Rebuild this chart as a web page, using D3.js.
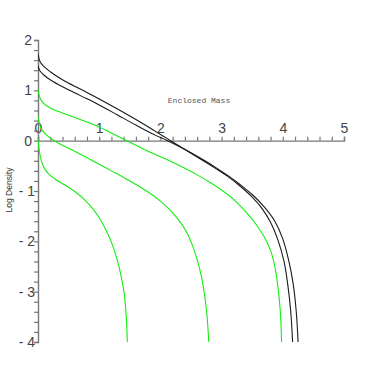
<!DOCTYPE html>
<html>
<head>
<meta charset="utf-8">
<script src="https://cdn.jsdelivr.net/npm/d3@7"></script>
<style>
  body { margin: 0; background: #fff; }
  svg { display: block; }
</style>
</head>
<body>
<script>
// curves: [enclosed mass, log density]
var blackUpper = [[0, 1.72], [0.03, 1.58], [0.09, 1.48], [0.2, 1.37], [0.4, 1.21], [0.7, 1.02], [1.0, 0.83],
  [1.3, 0.63], [1.6, 0.42], [1.9, 0.2], [2.1, 0.05], [2.3, -0.1], [2.5, -0.25], [2.7, -0.4], [2.9, -0.55],
  [3.1, -0.71], [3.3, -0.9], [3.5, -1.12], [3.65, -1.33], [3.8, -1.62], [3.92, -1.97], [4.02, -2.4],
  [4.08, -2.85], [4.13, -3.4], [4.16, -4]];
var blackLower = [[0, 1.49], [0.03, 1.39], [0.09, 1.31], [0.2, 1.21], [0.4, 1.07], [0.7, 0.89], [1.0, 0.71],
  [1.3, 0.51], [1.6, 0.31], [1.9, 0.12], [2.1, 0.01], [2.3, -0.11], [2.5, -0.24], [2.7, -0.38], [2.9, -0.53],
  [3.1, -0.69], [3.3, -0.87], [3.5, -1.07], [3.7, -1.32], [3.87, -1.6], [4.0, -1.95], [4.1, -2.4],
  [4.17, -2.85], [4.22, -3.4], [4.25, -4]];
var greenA = [[0, 1.01], [0.04, 0.83], [0.1, 0.73], [0.2, 0.65], [0.4, 0.55], [0.6, 0.46], [0.8, 0.37],
  [1.0, 0.27], [1.2, 0.15], [1.4, 0.03], [1.6, -0.09], [1.8, -0.21], [2.0, -0.32], [2.2, -0.43],
  [2.4, -0.55], [2.6, -0.68], [2.8, -0.82], [3.0, -0.98], [3.2, -1.17], [3.4, -1.42], [3.55, -1.64],
  [3.7, -1.92], [3.8, -2.18], [3.87, -2.5], [3.92, -2.9], [3.96, -3.4], [3.98, -4]];
var greenB = [[0, 0.48], [0.03, 0.31], [0.08, 0.19], [0.15, 0.1], [0.25, 0.01], [0.4, -0.09], [0.6, -0.21],
  [0.8, -0.34], [1.0, -0.47], [1.2, -0.6], [1.4, -0.73], [1.6, -0.87], [1.8, -1.02], [2.0, -1.2],
  [2.15, -1.37], [2.3, -1.58], [2.42, -1.8], [2.52, -2.07], [2.6, -2.36], [2.67, -2.7], [2.72, -3.05],
  [2.76, -3.45], [2.79, -4]];
var greenC = [[0, 0.02], [0.01, -0.1], [0.03, -0.27], [0.07, -0.46], [0.13, -0.6], [0.2, -0.69],
  [0.3, -0.78], [0.45, -0.89], [0.6, -1.01], [0.75, -1.16], [0.9, -1.36], [1.02, -1.57], [1.12, -1.8],
  [1.21, -2.05], [1.29, -2.35], [1.36, -2.7], [1.41, -3.05], [1.44, -3.45], [1.46, -4]];

var xTicks = [0, 1, 2, 3, 4, 5];
var yTicks = [-4, -3, -2, -1, 0, 1, 2];

var width = 382, height = 382;

var x = d3.scaleLinear().domain([0, 5]).range([38, 344]);
var y = d3.scaleLinear().domain([-4, 2]).range([342, 40]);

var svg = d3.select("body").append("svg")
  .attr("width", width)
  .attr("height", height);

// minor ticks every 0.2
var xMinor = d3.range(0, 26).map(function(i) { return i / 5; });
var yMinor = d3.range(0, 31).map(function(i) { return -4 + i / 5; });

function isMajor(v, list) {
  return list.some(function(t) { return Math.abs(v - t) < 1e-6; });
}

var xAxis = d3.axisTop(x)
  .tickValues(xMinor)
  .tickSize(4)
  .tickPadding(4)
  .tickFormat(function(d) { return isMajor(d, xTicks) ? Math.round(d) : ""; });

var yAxis = d3.axisLeft(y)
  .tickValues(yMinor)
  .tickSize(4)
  .tickPadding(2)
  .tickFormat(function(d) {
    if (!isMajor(d, yTicks)) return "";
    var v = Math.round(d);
    return v < 0 ? "- " + (-v) : v;
  });

var gx = svg.append("g")
  .attr("transform", "translate(0," + y(0) + ")")
  .call(xAxis);

var gy = svg.append("g")
  .attr("transform", "translate(" + x(0) + ",0)")
  .call(yAxis);

[gx, gy].forEach(function(g) {
  g.select(".domain").attr("stroke", "#777").attr("stroke-width", 1.4);
  g.selectAll(".tick line").attr("stroke", "#777").attr("stroke-width", 1.2);
  g.selectAll(".tick text")
    .attr("fill", "#444")
    .style("font-family", "Liberation Sans, Arial, sans-serif")
    .style("font-size", "14px");
});
gy.selectAll(".tick text")
  .filter(function(d) { return d < -0.5; })
  .attr("x", -3);

var line = d3.line()
  .x(function(d) { return x(d[0]); })
  .y(function(d) { return y(d[1]); })
  .curve(d3.curveCatmullRom.alpha(0.5));

svg.append("defs").append("clipPath").attr("id", "plot")
  .append("rect").attr("x", x(0)).attr("y", y(2) - 5)
  .attr("width", x(5) - x(0) + 5).attr("height", y(-4) - y(2) + 5);

var curves = svg.append("g").attr("clip-path", "url(#plot)");

[greenA, greenB, greenC].forEach(function(c) {
  curves.append("path").datum(c)
    .attr("fill", "none")
    .attr("stroke", "#11ee11")
    .attr("stroke-width", 1.1)
    .attr("d", line);
});

[blackUpper, blackLower].forEach(function(c) {
  curves.append("path").datum(c)
    .attr("fill", "none")
    .attr("stroke", "#1a1a1a")
    .attr("stroke-width", 1.1)
    .attr("d", line);
});

svg.append("text")
  .attr("x", 199)
  .attr("y", 103)
  .attr("text-anchor", "middle")
  .attr("fill", "#555")
  .style("font-family", "Liberation Mono, Courier New, monospace")
  .style("font-size", "8px")
  .text("Enclosed Mass");

svg.append("text")
  .attr("transform", "translate(12,190) rotate(-90)")
  .attr("text-anchor", "middle")
  .attr("fill", "#333")
  .style("font-family", "Liberation Sans, Arial, sans-serif")
  .style("font-size", "8.5px")
  .text("Log Density");
</script>
</body>
</html>
